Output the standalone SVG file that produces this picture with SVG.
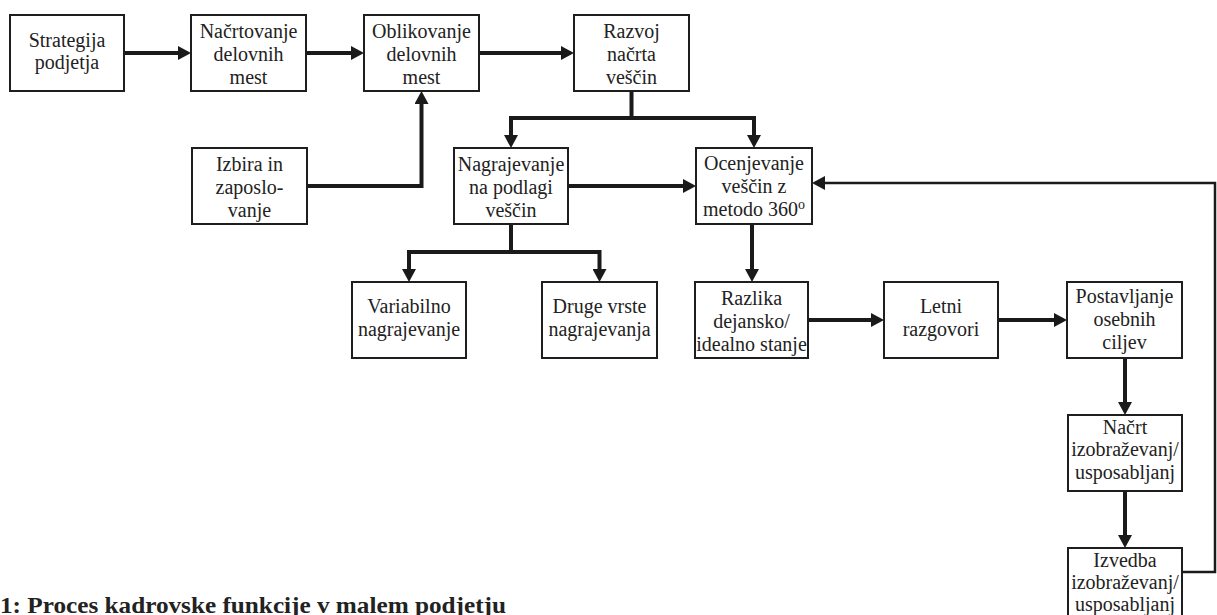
<svg xmlns="http://www.w3.org/2000/svg" width="1217" height="615" viewBox="0 0 1217 615">
<defs>
<style>
.box{fill:#fff;stroke:#1e1e1e;stroke-width:2}
.t{font-family:"Liberation Serif","Times New Roman",serif;font-size:20px;fill:#222;text-anchor:middle}
.c{fill:none;stroke:#1a1a1a;stroke-width:4;stroke-linejoin:miter}
.thin{fill:none;stroke:#1a1a1a;stroke-width:2.5}
.cap{font-family:"Liberation Serif","Times New Roman",serif;font-size:24px;font-weight:bold;fill:#222}
</style>
<marker id="ah" markerUnits="userSpaceOnUse" markerWidth="14" markerHeight="14" refX="7" refY="7" orient="auto">
<path d="M0,0 L13,7 L0,14 z" fill="#1a1a1a"/>
</marker>
</defs>
<rect width="1217" height="615" fill="#fff"/>
<g id="connectors">
<path class="c" d="M124,53 H185" marker-end="url(#ah)"/>
<path class="c" d="M306,53 H358" marker-end="url(#ah)"/>
<path class="c" d="M479,53 H568" marker-end="url(#ah)"/>
<path class="c" d="M307,186 H421.5 V97" marker-end="url(#ah)"/>
<path class="c" d="M631.5,91 V118 H511 V142" marker-end="url(#ah)"/>
<path class="c" d="M631.5,118 H754 V142" marker-end="url(#ah)"/>
<path class="c" d="M568,186 H690" marker-end="url(#ah)"/>
<path class="c" d="M511,224 V252 H409 V276" marker-end="url(#ah)"/>
<path class="c" d="M511,252 H599.5 V276" marker-end="url(#ah)"/>
<path class="c" d="M752,224 V276" marker-end="url(#ah)"/>
<path class="c" d="M808,320 H878" marker-end="url(#ah)"/>
<path class="c" d="M998,320 H1061" marker-end="url(#ah)"/>
<path class="c" d="M1125,358 V409" marker-end="url(#ah)"/>
<path class="c" d="M1125,491 V542" marker-end="url(#ah)"/>
<path class="thin" d="M1182,572 H1215 V183 H818" marker-end="url(#ah)"/>
</g>
<g id="n-strategija"><rect class="box" x="10" y="15" width="114" height="76"/>
<text class="t" x="67" y="47">Strategija</text><text class="t" x="67" y="69">podjetja</text></g>
<g id="n-nacrtovanje"><rect class="box" x="191" y="15" width="115" height="76"/>
<text class="t" x="248.5" y="38">Načrtovanje</text><text class="t" x="248.5" y="61">delovnih</text><text class="t" x="248.5" y="84">mest</text></g>
<g id="n-oblikovanje"><rect class="box" x="364" y="15" width="115" height="76"/>
<text class="t" x="421.5" y="38">Oblikovanje</text><text class="t" x="421.5" y="61">delovnih</text><text class="t" x="421.5" y="84">mest</text></g>
<g id="n-razvoj"><rect class="box" x="574" y="15" width="115" height="76"/>
<text class="t" x="631.5" y="38">Razvoj</text><text class="t" x="631.5" y="61">načrta</text><text class="t" x="631.5" y="84">veščin</text></g>
<g id="n-izbira"><rect class="box" x="192" y="148" width="115" height="76"/>
<text class="t" x="249.5" y="171">Izbira in</text><text class="t" x="249.5" y="194">zaposlo-</text><text class="t" x="249.5" y="217">vanje</text></g>
<g id="n-nagrajevanje"><rect class="box" x="454" y="148" width="114" height="76"/>
<text class="t" x="511" y="171">Nagrajevanje</text><text class="t" x="511" y="194">na podlagi</text><text class="t" x="511" y="217">veščin</text></g>
<g id="n-ocenjevanje"><rect class="box" x="696" y="148" width="116" height="76"/>
<text class="t" x="754" y="170">Ocenjevanje</text><text class="t" x="754" y="193">veščin z</text><text class="t" x="754" y="216">metodo 360<tspan font-size="14" dy="-7">o</tspan></text></g>
<g id="n-variabilno"><rect class="box" x="352" y="282" width="114" height="76"/>
<text class="t" x="409" y="313">Variabilno</text><text class="t" x="409" y="336">nagrajevanje</text></g>
<g id="n-druge"><rect class="box" x="542" y="282" width="115" height="76"/>
<text class="t" x="599.5" y="313">Druge vrste</text><text class="t" x="599.5" y="336">nagrajevanja</text></g>
<g id="n-razlika"><rect class="box" x="695" y="282" width="113" height="76"/>
<text class="t" x="751.5" y="305">Razlika</text><text class="t" x="751.5" y="328">dejansko/</text><text class="t" x="751.5" y="351">idealno stanje</text></g>
<g id="n-letni"><rect class="box" x="884" y="282" width="114" height="76"/>
<text class="t" x="941" y="313">Letni</text><text class="t" x="941" y="336">razgovori</text></g>
<g id="n-postavljanje"><rect class="box" x="1067" y="282" width="115" height="76"/>
<text class="t" x="1124.5" y="303">Postavljanje</text><text class="t" x="1124.5" y="326">osebnih</text><text class="t" x="1124.5" y="349">ciljev</text></g>
<g id="n-nacrt"><rect class="box" x="1068" y="415" width="114" height="76"/>
<text class="t" x="1125" y="434">Načrt</text><text class="t" x="1125" y="456">izobraževanj/</text><text class="t" x="1125" y="479">usposabljanj</text></g>
<g id="n-izvedba"><rect class="box" x="1068" y="548" width="114" height="76"/>
<text class="t" x="1125" y="567">Izvedba</text><text class="t" x="1125" y="589">izobraževanj/</text><text class="t" x="1125" y="611">usposabljanj</text></g>
<text class="cap" x="0" y="613" textLength="506" lengthAdjust="spacingAndGlyphs">1: Proces kadrovske funkcije v malem podjetju</text>
</svg>
